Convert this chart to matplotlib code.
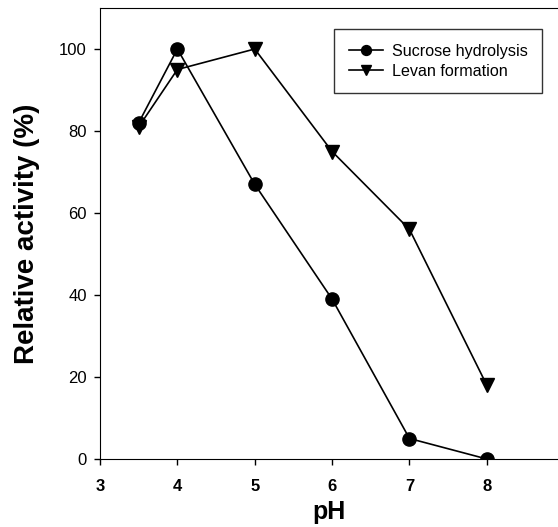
import matplotlib
matplotlib.use("Agg")
import matplotlib.pyplot as plt

# data
ph = [3.5, 4, 5, 6, 7, 8]
sucrose = [82, 100, 67, 39, 5, 0]
levan = [81, 95, 100, 75, 56, 18]
xticks = [3, 4, 5, 6, 7, 8]
yticks = [0, 20, 40, 60, 80, 100]

plt.rcParams['font.family'] = ['Liberation Sans', 'DejaVu Sans']

fig = plt.figure(figsize=(5.58, 5.27), dpi=100)
ax = fig.add_axes([100 / 558, 68 / 527, (558 - 100) / 558, 451 / 527])

ax.plot(ph, sucrose, color='black', lw=1.2, marker='o', markersize=9.5,
        label='Sucrose hydrolysis')
ax.plot(ph, levan, color='black', lw=1.2, marker='v', markersize=10,
        label='Levan formation')

ax.set_xlim(3, 8.92)
ax.set_ylim(0, 110)
ax.set_xticks(xticks)
ax.set_yticks(yticks)
ax.spines['right'].set_visible(False)
ax.tick_params(direction='out', length=4.5, width=1)
ax.tick_params(axis='x', labelsize=12, pad=10)
ax.tick_params(axis='y', labelsize=12, pad=5)
for lab in ax.get_xticklabels():
    lab.set_fontweight('bold')

ax.set_xlabel('pH', fontsize=18, fontweight='bold', labelpad=4)
ax.set_ylabel('Relative activity (%)', fontsize=20, fontweight='bold')
ax.yaxis.set_label_coords(-0.131, 0.5)

leg = ax.legend(loc='upper right', bbox_to_anchor=(0.965, 0.953), borderaxespad=0,
                fontsize=11.6, frameon=True, fancybox=False, edgecolor='black',
                handlelength=2.1, handletextpad=0.55, markerscale=0.75,
                borderpad=0.9, labelspacing=0.3)
leg.get_frame().set_linewidth(1.0)

fig.savefig('out.png', dpi=100)
